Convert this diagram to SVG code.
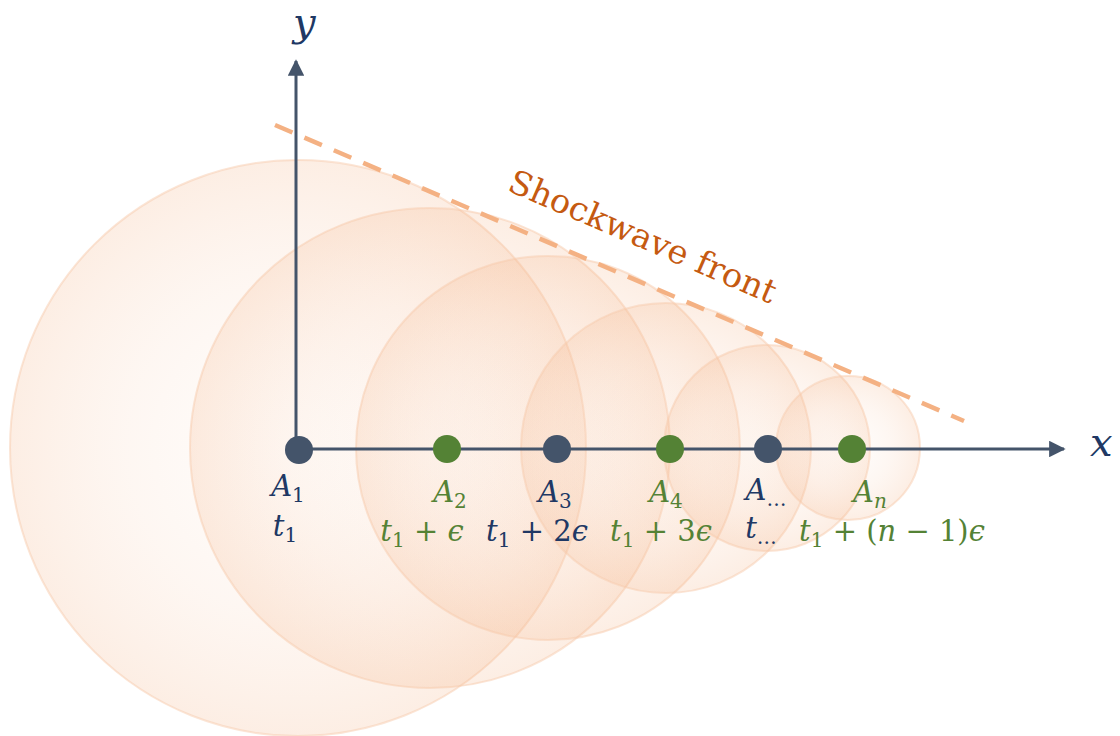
<svg xmlns="http://www.w3.org/2000/svg" width="1120" height="736" viewBox="0 0 1120 736">
  <defs>
    <radialGradient id="wave" cx="0.5" cy="0.5" r="0.5">
      <stop offset="0" stop-color="#FBE5D6" stop-opacity="0.08"/>
      <stop offset="0.6" stop-color="#F8CBAD" stop-opacity="0.16"/>
      <stop offset="1" stop-color="#F4B183" stop-opacity="0.22"/>
    </radialGradient>
    <marker id="arrow" viewBox="0 0 10 10" refX="9" refY="5" markerWidth="5.5" markerHeight="5.5" orient="auto" markerUnits="strokeWidth">
      <path d="M0,0 L10,5 L0,10 Z" fill="#44546A"/>
    </marker>
    <style>
      .wave { fill: url(#wave); stroke: #F8CBAD; stroke-opacity: 0.5; stroke-width: 2; }
      .axis { stroke: #44546A; stroke-width: 3; fill: none; }
      .front { stroke: #F4B183; stroke-width: 4.5; stroke-dasharray: 19 13; fill: none; }
      .dot-dark { fill: #44546A; }
      .dot-green { fill: #548235; }
      .lbl { font-size: 29px; text-anchor: middle; }
      .navy { fill: #203864; }
      .green { fill: #548235; }
      .it { font-style: italic; }
      .sub { font-size: 20px; }
      .axlbl { font-size: 40px; font-style: italic; fill: #203864; }
      .title { font-size: 33px; fill: #C55A11; }
    </style>
  </defs>

  <g id="waves">
    <circle class="wave" cx="298" cy="448" r="288"/>
    <circle class="wave" cx="430" cy="448" r="240"/>
    <circle class="wave" cx="548" cy="448" r="192"/>
    <circle class="wave" cx="666" cy="448" r="145"/>
    <circle class="wave" cx="767" cy="448" r="103"/>
    <circle class="wave" cx="848" cy="448" r="72"/>
  </g>

  <g id="connectors">
    <line class="axis" x1="296" y1="450" x2="296" y2="61" marker-end="url(#arrow)"/>
    <line class="axis" x1="296" y1="449" x2="1064" y2="449" marker-end="url(#arrow)"/>
    <line class="front" x1="275" y1="125" x2="964" y2="421"/>
  </g>

  <g id="axis-labels" font-family="DejaVu Serif, serif">
    <text class="axlbl" x="293" y="36">y</text>
    <text class="axlbl" x="1090" y="456">x</text>
  </g>

  <g id="shockwave-label" font-family="DejaVu Serif, serif">
    <text class="title" x="0" y="0" textLength="288" lengthAdjust="spacingAndGlyphs" transform="translate(506,190) rotate(23.3)">Shockwave front</text>
  </g>

  <g id="nodes" font-family="DejaVu Serif, serif">
  <g id="node-A1">
    <circle class="dot-dark" cx="299" cy="450" r="14"/>
    <text class="lbl navy" x="288" y="496"><tspan class="it">A</tspan><tspan class="sub" dy="6">1</tspan></text>
    <text class="lbl navy" x="285" y="536"><tspan class="it">t</tspan><tspan class="sub" dy="6">1</tspan></text>
  </g>

  <g id="node-A2">
    <circle class="dot-green" cx="447" cy="449" r="14"/>
    <text class="lbl green" x="450" y="502"><tspan class="it">A</tspan><tspan class="sub" dy="6">2</tspan></text>
    <text class="lbl green" x="422" y="541"><tspan class="it">t</tspan><tspan class="sub" dy="6">1</tspan><tspan dy="-6"> + </tspan><tspan class="it">ϵ</tspan></text>
  </g>

  <g id="node-A3">
    <circle class="dot-dark" cx="557" cy="449" r="14"/>
    <text class="lbl navy" x="555" y="502"><tspan class="it">A</tspan><tspan class="sub" dy="6">3</tspan></text>
    <text class="lbl navy" x="537" y="541"><tspan class="it">t</tspan><tspan class="sub" dy="6">1</tspan><tspan dy="-6"> + 2</tspan><tspan class="it">ϵ</tspan></text>
  </g>

  <g id="node-A4">
    <circle class="dot-green" cx="670" cy="449" r="14"/>
    <text class="lbl green" x="666" y="502"><tspan class="it">A</tspan><tspan class="sub" dy="6">4</tspan></text>
    <text class="lbl green" x="661" y="541"><tspan class="it">t</tspan><tspan class="sub" dy="6">1</tspan><tspan dy="-6"> + 3</tspan><tspan class="it">ϵ</tspan></text>
  </g>

  <g id="node-Adots">
    <circle class="dot-dark" cx="768" cy="449" r="14"/>
    <text class="lbl navy" x="766" y="500"><tspan class="it">A</tspan><tspan class="sub" dy="6">…</tspan></text>
    <text class="lbl navy" x="761" y="538"><tspan class="it">t</tspan><tspan class="sub" dy="6">…</tspan></text>
  </g>

  <g id="node-An">
    <circle class="dot-green" cx="852" cy="449" r="14"/>
    <text class="lbl green" x="870" y="502"><tspan class="it">A</tspan><tspan class="sub" style="font-style:italic" dy="6">n</tspan></text>
    <text class="lbl green" x="892" y="541"><tspan class="it">t</tspan><tspan class="sub" dy="6">1</tspan><tspan dy="-6"> + (</tspan><tspan class="it">n</tspan><tspan> − 1)</tspan><tspan class="it">ϵ</tspan></text>
  </g>
  </g>
</svg>
